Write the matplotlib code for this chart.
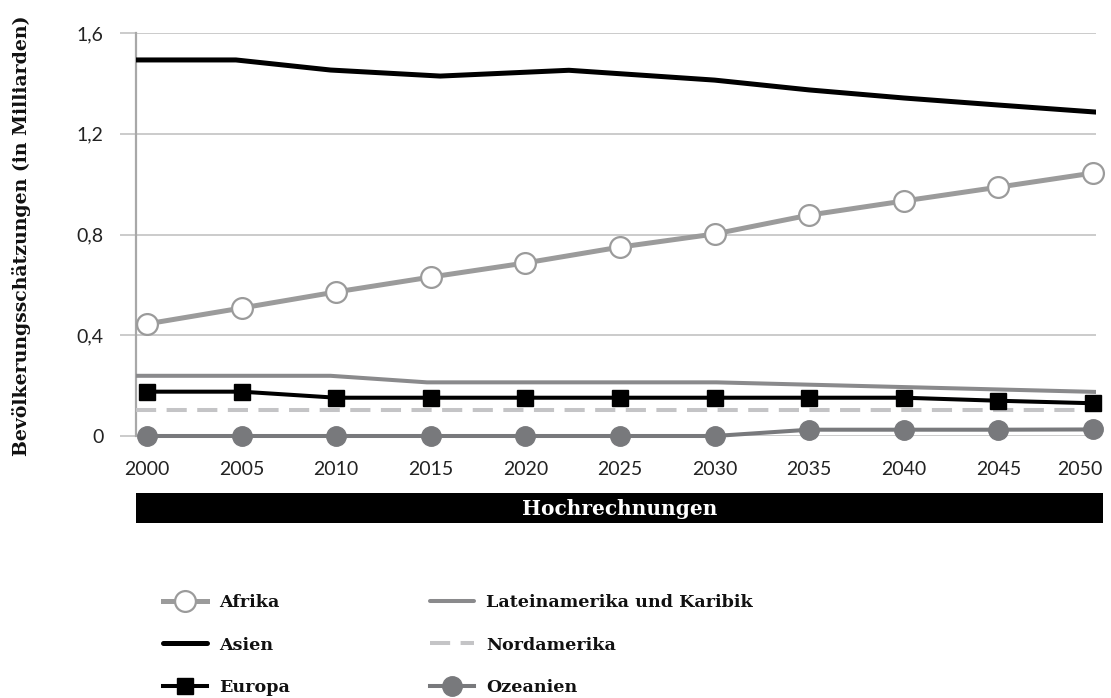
import matplotlib
matplotlib.use("Agg")
import matplotlib.pyplot as plt
import matplotlib.transforms as mtransforms
from matplotlib.patches import Rectangle

# Population estimates (billions)
years = [2000, 2005, 2010, 2015, 2020, 2025, 2030, 2035, 2040, 2045, 2050]
afrika = [0.445, 0.508, 0.572, 0.631, 0.687, 0.750, 0.802, 0.877, 0.933, 0.988, 1.044]
europa = [0.176, 0.176, 0.152, 0.152, 0.152, 0.152, 0.152, 0.152, 0.152, 0.140, 0.130]
ozeanien = [0.0, 0.0, 0.0, 0.0, 0.0, 0.0, 0.0, 0.025, 0.025, 0.025, 0.026]

asien_years = [1999.42, 2004.7, 2009.7, 2015.5, 2022.3, 2030, 2035, 2040, 2045, 2050.16]
asien = [1.493, 1.493, 1.453, 1.429, 1.452, 1.413, 1.374, 1.342, 1.314, 1.286]

latein_years = [1999.42, 2009.7, 2014.8, 2030.1, 2050.16]
latein = [0.239, 0.239, 0.213, 0.213, 0.175]

nord_years = [1999.42, 2050.16]
nord = [0.103, 0.103]

yticks = [0, 0.4, 0.8, 1.2, 1.6]
ytick_labels = ["0", "0,4", "0,8", "1,2", "1,6"]

W, H = 1111, 698
fig = plt.figure(figsize=(W / 100, H / 100), dpi=100)
ax = fig.add_axes([136 / W, 1 - 436 / H, (1096 - 136) / W, (436 - 33) / H])

slab = "DejaVu Serif"
sans = "Lato"

c_afrika = "#9b9b9b"
c_latein = "#8a8a8c"
c_ozean = "#78797c"
c_nord = "#c4c4c6"
c_grid = "#cbcbcb"

ax.plot(latein_years, latein, color=c_latein, lw=2.9, solid_capstyle="round",
        zorder=3, label="Lateinamerika und Karibik")
ax.plot(nord_years, nord, color=c_nord, lw=2.9, dashes=(5, 2.6), zorder=3,
        label="Nordamerika")
ax.plot(years, ozeanien, color=c_ozean, lw=2.9, marker="o", ms=14,
        mfc=c_ozean, mec=c_ozean, clip_on=False, zorder=4, label="Ozeanien")
ax.plot(years, europa, color="black", lw=2.9, marker="s", ms=11,
        mfc="black", mec="black", clip_on=False, zorder=5, label="Europa")
ax.plot(asien_years, asien, color="black", lw=3.6, solid_capstyle="round",
        zorder=5, label="Asien")
ax.plot(years, afrika, color=c_afrika, lw=3.6, marker="o", ms=15,
        mfc="white", mec=c_afrika, mew=1.6, clip_on=False, zorder=6,
        label="Afrika")

ax.set_xlim(1999.42, 2050.16)
ax.set_ylim(0, 1.6)

ax.set_yticks(yticks)
ax.set_yticklabels(ytick_labels, fontfamily=sans, fontsize=14, color="#222222")
ax.set_xticks(years)
ax.set_xticklabels([str(y) for y in years], fontfamily=sans, fontsize=14,
                   color="#222222")
ax.tick_params(axis="y", length=11.5, width=1.4, color=c_grid, pad=12)
ax.tick_params(axis="x", length=0, pad=18)

# keep the last year label inside the figure
last = ax.get_xticklabels()[-1]
last.set_transform(last.get_transform() +
                   mtransforms.ScaledTranslation(-13 / 100, 0, fig.dpi_scale_trans))

ax.grid(axis="y", color=c_grid, lw=1.4, zorder=0)
ax.set_axisbelow(True)
for s in ["top", "right", "bottom"]:
    ax.spines[s].set_visible(False)
ax.spines["left"].set_color("#a8a8a8")
ax.spines["left"].set_linewidth(1.6)

fig.text(22 / W, 1 - 236 / H, "Bevölkerungsschätzungen (in Milliarden)",
         rotation=90, ha="center", va="center", fontfamily=slab,
         fontweight="bold", fontsize=13.6, color="#111111")

# Projection band below the x axis
fig.add_artist(Rectangle((136 / W, 1 - 523 / H), (1103 - 136) / W, 30 / H,
                         transform=fig.transFigure, facecolor="black",
                         edgecolor="none"))
fig.text(619.5 / W, 1 - 509 / H, "Hochrechnungen", ha="center", va="center",
         fontfamily=slab, fontweight="bold", fontsize=14.5, color="white")

handles, labels = ax.get_legend_handles_labels()
hmap = dict(zip(labels, handles))
leg_kw = dict(frameon=False, loc="upper left", handlelength=2.5,
              handletextpad=0.7, labelspacing=1.46, borderaxespad=0,
              borderpad=0, prop={"family": slab, "weight": "bold", "size": 12.6})
col1 = ["Afrika", "Asien", "Europa"]
col2 = ["Lateinamerika und Karibik", "Nordamerika", "Ozeanien"]
leg1 = fig.legend([hmap[k] for k in col1], col1,
                  bbox_to_anchor=(163 / W, 1 - 594 / H), **leg_kw)
leg2 = fig.legend([hmap[k] for k in col2], col2,
                  bbox_to_anchor=(430 / W, 1 - 594 / H), **leg_kw)
for lg in (leg1, leg2):
    for t in lg.get_texts():
        t.set_color("#111111")

fig.savefig("out.png", dpi=100)
